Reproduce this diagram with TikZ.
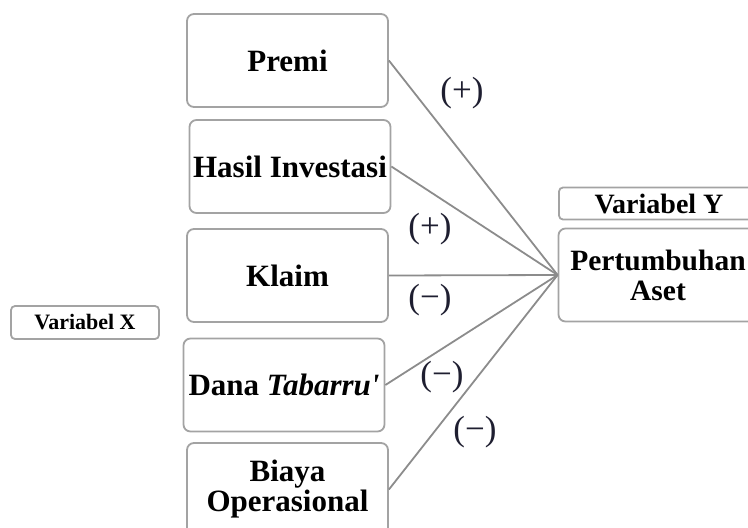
\documentclass[tikz,border=0pt]{standalone}
\usepackage{fontspec}
\setmainfont{Liberation Serif}
\definecolor{boxgray}{HTML}{A3A3A3}
\definecolor{linegray}{HTML}{8C8C8C}
\definecolor{signcol}{HTML}{1E1E30}
\tikzset{
  varbox/.style={draw=boxgray, line width=1.8pt, rounded corners=7pt, fill=white,
    minimum width=201pt, minimum height=93pt, inner sep=0pt, align=center,
    font=\fontsize{31}{30}\selectfont\bfseries},
  labbox/.style={draw=boxgray, line width=1.8pt, rounded corners=4pt, fill=white,
    inner sep=0pt, align=center},
  conn/.style={draw=linegray, line width=1.8pt},
  sign/.style={text=signcol, inner sep=0pt, font=\fontsize{35}{37}\selectfont}
}
\begin{document}
\begin{tikzpicture}[x=1pt,y=-1pt]
\useasboundingbox (0,0) rectangle (748,528);
\clip (0,0) rectangle (748,528);
\node[varbox] (premi) at (287.5,60.5) {Premi};
\node[varbox] (hasil) at (290,166.5) {Hasil Investasi};
\node[varbox] (klaim) at (287.5,275.5) {Klaim};
\node[varbox] (dana) at (284,385) {Dana \textit{Tabarru\textquotesingle}};
\node[varbox] (biaya) at (287.5,489.5) {Biaya\\Operasional};
\node[labbox, minimum width=148pt, minimum height=33pt,
  font=\fontsize{22}{24}\selectfont\bfseries] (vx) at (85,322.5) {Variabel X};
\node[labbox, minimum width=200pt, minimum height=32pt,
  font=\fontsize{28}{30}\selectfont\bfseries] (vy) at (659,203.5) {Variabel Y};
\node[varbox, font=\fontsize{29.5}{30}\selectfont\bfseries] (aset) at (659,275) {};
\node[inner sep=0pt, align=center, font=\fontsize{29.5}{30}\selectfont\bfseries] (asettext) at (658,275) {Pertumbuhan\\Aset};
\coordinate (hub) at (aset.west);
\draw[conn] (premi.east) -- (hub);
\draw[conn] (hasil.east) -- (hub);
\draw[conn] (klaim.east) -- (hub);
\draw[conn] (dana.east) -- (hub);
\draw[conn] (biaya.east) -- (hub);
\node[sign] (s1) at (462,93) {(+)};
\node[sign] (s2) at (430,229) {(+)};
\node[sign] (s3) at (430,300) {(\textminus)};
\node[sign] (s4) at (442,377) {(\textminus)};
\node[sign] (s5) at (475,432) {(\textminus)};
\end{tikzpicture}
\end{document}
